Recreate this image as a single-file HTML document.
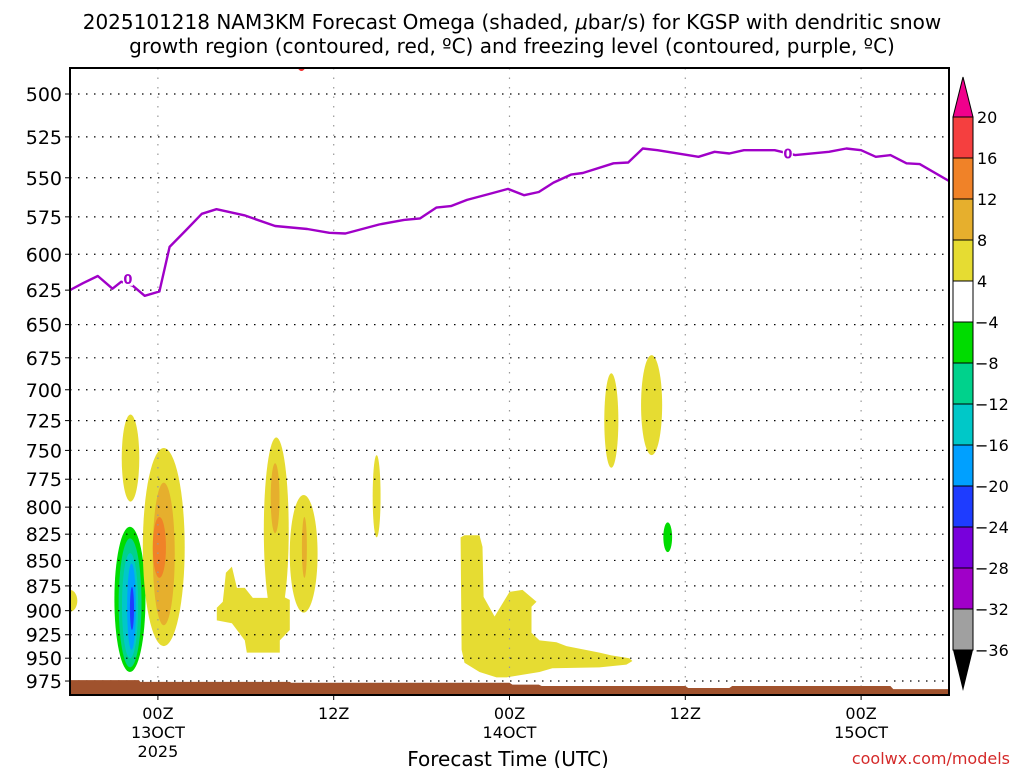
<!DOCTYPE html>
<html><head><meta charset="utf-8"><style>
body{margin:0;background:#fff;width:1024px;height:768px;overflow:hidden}
svg{display:block}
text{font-family:"DejaVu Sans","Liberation Sans",sans-serif;fill:#000}
</style></head><body>
<svg id="chart" width="1024" height="768" xmlns="http://www.w3.org/2000/svg">
<g>
<text x="512" y="29" font-size="20" text-anchor="middle">2025101218 NAM3KM Forecast Omega (shaded, <tspan font-style="italic">μ</tspan>bar/s) for KGSP with dendritic snow</text>
<text x="512" y="53" font-size="20" text-anchor="middle">growth region (contoured, red, ºC) and freezing level (contoured, purple, ºC)</text>
</g>
<g id="plot"></g>
<g id="cbar"></g>
<text x="508" y="766" font-size="20" text-anchor="middle">Forecast Time (UTC)</text>
<text x="1010" y="764" font-size="16" text-anchor="end" style="fill:#d42a2a">coolwx.com/models</text>
</svg>
<script>
const NS="http://www.w3.org/2000/svg";
// ---- data ----
const pTicks=[500,525,550,575,600,625,650,675,700,725,750,775,800,825,850,875,900,925,950,975];
const xTickHours=[6,18,30,42,54];
const xTickLabels=[["00Z","13OCT","2025"],["12Z"],["00Z","14OCT"],["12Z"],["00Z","15OCT"]];
const frzHours=[0,0.9,1.9,2.9,3.5,4.3,5.1,6.1,6.8,7.9,9.0,10.0,11.9,14.0,16.2,17.7,18.8,21.1,22.8,23.9,25.0,26.0,27.1,28.7,29.9,31.0,32.0,33.0,34.2,35.0,37.1,38.1,39.1,40.1,42.9,44.0,45.0,46.0,48.1,49.5,51.8,53.0,54.0,55.0,56.0,57.1,58.0,60];
const frzP=[625,620,615,624,619,622,629,626,595,584,573,570,574,581,583,585.5,586,580,577,576,569,568,564,560,557,561,559,553,548,547,541,540.5,532,533,537,534,535,533,533,536,534,532,533,537,536,541,541.5,552];
const frzLabelHours=[3.95,49.0];
const frzLabelP=[617,535];
// ellipse blobs: center hour, half-width hours, top p, bottom p, level
const blobHour=[0,4.13,4.09,4.1,4.1,4.2,4.23,6.4,6.4,6.1,14.08,14.0,15.95,16.0,20.93,36.95,39.7,40.8];
const blobHW=[0.5,0.6,1.06,0.78,0.55,0.3,0.14,1.43,0.75,0.45,0.85,0.3,0.95,0.17,0.27,0.48,0.72,0.3];
const blobTop=[879,720,818,829,843,853,876,748,778,809,739,761,789,809,754,687,673,814];
const blobBot=[901,795,965,960,950,941,920,937,915,867,913,824,902,867,828,765,754,842];
const blobLevel=[4,4,-4,-8,-12,-16,-20,4,8,12,4,8,4,8,4,4,4,-4];
// polygons
const poly1Hours=[10.43,10.64,11.05,11.39,11.93,12.48,13.5,13.64,15.0,15.0,14.32,14.32,12.07,11.93,11.05,10.02,10.02];
const poly1P=[891,862,856,877,877,887,887,879,889,920,931,944,944,931,913,910,897];
const poly2Hours=[26.66,26.93,27.95,28.16,28.23,28.98,30.0,30.89,31.84,31.5,31.5,32.05,33.2,33.89,36.14,36.95,38.18,38.39,37.98,36.14,32.93,32.05,29.8,29.11,27.95,26.93,26.73];
const poly2P=[828,826,826,837,886,906,881,879,891,896,923,931,933,937,944,947,950,953,957,960,961,965,971,971,965,955,941];
const sfcHours=[0,4.7,4.8,15,15.1,30,30.2,32,32.2,42,42.2,45,45.2,56,56.2,60];
const sfcP=[974,974,976,976,977,977,979,979,980.5,980.5,982.8,982.8,980.5,980.5,984,984];
const cbLevels=[20,16,12,8,4,-4,-8,-12,-16,-20,-24,-28,-32,-36];
const cbColors=["#f53f3f","#f08228","#e6af2d","#e6dc32","#ffffff","#00dc00","#00d28c","#00c8c8","#00a0ff","#1e3cff","#7800dc","#a000c8","#a0a0a0"];
// ---- axes ----
const X0=70,X1=949,Y0=68,Y1=695;
const x=h=>X0+(h/60)*(X1-X0);
const y=p=>94+879*Math.log(p/500);
function colorFor(l){return l>0?cbColors[cbLevels.indexOf(l+4)]:cbColors[cbLevels.indexOf(l)];}
function el(t,a,parent){const e=document.createElementNS(NS,t);for(const k in a)e.setAttribute(k,a[k]);parent.appendChild(e);return e;}
const plot=document.getElementById('plot');
const clip=el('clipPath',{id:'pc'},el('defs',{},plot));
el('rect',{x:X0,y:Y0,width:X1-X0,height:Y1-Y0},clip);
const inner=el('g',{'clip-path':'url(#pc)'},plot);


blobHour.forEach((h,i)=>{
  const t=y(blobTop[i]),b=y(blobBot[i]);
  const e=el('ellipse',{cx:x(blobHour[i]),cy:(t+b)/2,rx:blobHW[i]*(X1-X0)/60,ry:(b-t)/2,fill:colorFor(blobLevel[i])},inner);
  
  
});
[[poly1Hours,poly1P],[poly2Hours,poly2P]].forEach((pp,i)=>{
  const pts=pp[0].map((h,j)=>x(h).toFixed(1)+','+y(pp[1][j]).toFixed(1)).join(' ');
  const e=el('polygon',{points:pts,fill:'#e6dc32'},inner);
  
  
});
// gridlines
pTicks.forEach(p=>{
  const g=el('line',{x1:X0,x2:X1,y1:y(p),y2:y(p),stroke:'#000','stroke-width':1.2,'stroke-dasharray':'1.5 6.5'},inner);
  
  
});
xTickHours.forEach(h=>{
  const g=el('line',{x1:x(h),x2:x(h),y1:Y0,y2:Y1,stroke:'#999','stroke-width':1.2,'stroke-dasharray':'1.5 8'},inner);
  
  
});
// terrain
let tp='M'+x(sfcHours[0])+','+Y1;
sfcHours.forEach((h,i)=>{tp+=' L'+x(h).toFixed(1)+','+y(sfcP[i]).toFixed(1);});
tp+=' L'+x(60)+','+Y1+'Z';
const terr=el('path',{d:tp,fill:'#a0522d'},inner);


// red dgz contour
const red=el('path',{d:`M${x(15.55)},${Y0-2} Q${x(15.8)},${Y0+6} ${x(16.05)},${Y0-2}`,fill:'none',stroke:'#f03030','stroke-width':2},inner);


// freezing line
const fl=el('polyline',{points:frzHours.map((h,i)=>x(h).toFixed(1)+','+y(frzP[i]).toFixed(1)).join(' '),fill:'none',stroke:'#a000c8','stroke-width':2.4,'stroke-linejoin':'round'},inner);


frzLabelHours.forEach((h,i)=>{
  el('rect',{x:x(h)-5,y:y(frzLabelP[i])-8,width:10,height:15,fill:'#fff'},inner);
  const t=el('text',{x:x(h),y:y(frzLabelP[i])+5,'font-size':13,'font-weight':'bold','text-anchor':'middle',style:'fill:#a000c8'},inner);
  t.textContent='0';
  
  
});
// frame
const fr=el('rect',{x:X0,y:Y0,width:X1-X0,height:Y1-Y0,fill:'none',stroke:'#000','stroke-width':2},plot);


pTicks.forEach(p=>{
  el('line',{x1:X0-5,x2:X0,y1:y(p),y2:y(p),stroke:'#000','stroke-width':1},plot);
  const t=el('text',{x:X0-8,y:y(p)+7,'font-size':19,'text-anchor':'end'},plot);
  t.textContent=p;
  
  
});
xTickHours.forEach((h,i)=>{
  el('line',{x1:x(h),x2:x(h),y1:Y1,y2:Y1+5,stroke:'#000','stroke-width':1},plot);
  xTickLabels[i].forEach((s,j)=>{
    const t=el('text',{x:x(h),y:719+j*19,'font-size':16,'text-anchor':'middle'},plot);
    t.textContent=s;
    
    
  });
});
// colorbar
const cb=document.getElementById('cbar');


const CX0=953,CX1=973,cy=i=>117+i*41;
el('polygon',{points:`${CX0},${cy(0)} ${CX1},${cy(0)} ${(CX0+CX1)/2},77`,fill:'#f0008c',stroke:'#000','stroke-width':1},cb);
cbColors.forEach((c,i)=>{
  const r=el('rect',{x:CX0,y:cy(i),width:CX1-CX0,height:41,fill:c,stroke:'#000','stroke-width':1},cb);
  
  
});
el('polygon',{points:`${CX0},${cy(13)} ${CX1},${cy(13)} ${(CX0+CX1)/2},691`,fill:'#000'},cb);
cbLevels.forEach((l,i)=>{
  const t=el('text',{x:l<0?975:977,y:cy(i)+6,'font-size':16},cb);
  t.textContent=l<0?'\u2212'+(-l):l;
  
  
});
</script>
</body></html>
